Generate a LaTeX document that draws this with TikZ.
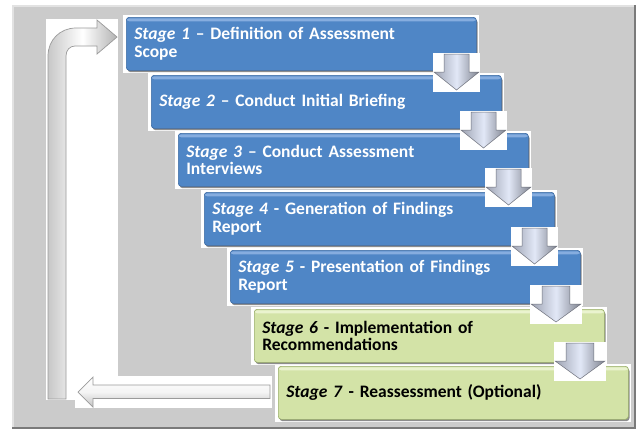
\documentclass[tikz,border=0pt]{standalone}
\usepackage{fontspec}
\setmainfont{Carlito}
\usetikzlibrary{shadows}
\definecolor{framegray}{HTML}{CBCBCB}
\definecolor{framedark}{HTML}{7A7A7A}
\definecolor{framelight}{HTML}{E2E2E2}
\definecolor{stageblue}{HTML}{4F86C6}
\definecolor{stagebluehi}{HTML}{86ADDF}
\definecolor{stageblueedge}{HTML}{3C6AA3}
\definecolor{stagegreen}{HTML}{D3E3A7}
\definecolor{stagegreenhi}{HTML}{EAF3CF}
\definecolor{stagegreenedge}{HTML}{98AD68}
\definecolor{arrowlight}{HTML}{E2E8F7}
\definecolor{arrowedge}{HTML}{9EA3B2}
\definecolor{looplight}{HTML}{F4F4F4}
\definecolor{loopedge}{HTML}{9A9A9A}
\tikzset{
  stagebox/.style={rounded corners=3pt, minimum width=350pt, minimum height=53pt,
    text width=334pt, inner xsep=8pt, inner ysep=0pt, align=left, anchor=north west,
    font=\fontsize{17.5}{17.5}\selectfont\bfseries,
    general shadow={fill=black!45, shadow xshift=1.2pt, shadow yshift=-1.8pt}},
  bluestage/.style={stagebox, fill=stageblue, draw=stageblueedge, line width=0.6pt, text=white,
    path picture={\fill[stagebluehi] ([yshift=-1pt]path picture bounding box.north west) rectangle ([yshift=-4pt]path picture bounding box.north east);}},
  greenstage/.style={stagebox, fill=stagegreen, draw=stagegreenedge, line width=0.6pt, text=black,
    path picture={\fill[stagegreenhi] ([yshift=-1pt]path picture bounding box.north west) rectangle ([yshift=-4pt]path picture bounding box.north east);}},
  downarrow/.style={left color=arrowedge, right color=arrowedge!80!black, middle color=arrowlight, draw=arrowedge!70!black, line width=0.5pt, line join=miter},
  looparrow/.style={draw=loopedge, line width=0.7pt, line join=miter},
  whitebg/.style={fill=white}
}
\begin{document}
\begin{tikzpicture}[x=1pt,y=-1pt]
\useasboundingbox (0,0) rectangle (640,432);
\fill[white] (0,0) rectangle (640,432);
% frame
\fill[framegray] (12,5) rectangle (636,429);
\draw[framelight, line width=1.5pt] (12.75,428) -- (12.75,5.75) -- (635,5.75);
\draw[framedark, line width=2.5pt] (634.75,5) -- (634.75,427.75) -- (12,427.75);
% white backgrounds of the loop arrow
\fill[whitebg] (46,19) rectangle (118,400);
\fill[whitebg] (75,376) rectangle (272,408);
% white backgrounds of the stages
\foreach \x/\y in {126/17,151/75,178/133,204/192,230/250,254/309,278/366}
  \fill[whitebg] (\x-3,\y-2) rectangle (\x+353,\y+56);
% stages
\node[bluestage] (s1) at (126,17) {\textit{Stage 1} – Definition of Assessment\\Scope};
\node[bluestage] (s2) at (151,75) {\textit{Stage 2} – Conduct Initial Briefing};
\node[bluestage] (s3) at (178,133) {\textit{Stage 3} – Conduct Assessment\\Interviews};
\node[bluestage] (s4) at (204,192) {\textit{Stage 4} - Generation of Findings\\Report};
\node[bluestage] (s5) at (230,250) {\textit{Stage 5} - Presentation of Findings\\Report};
\node[greenstage] (s6) at (254,309) {\textit{Stage 6} - Implementation of\\Recommendations};
\node[greenstage] (s7) at (278,366) {\textit{Stage 7} - Reassessment (Optional)};
% down arrows between stages
\foreach \bx/\by/\w in {433/53/47,460/111/47,485/168/47,511/227/47,530/285/52,554/342/52}{
  \fill[whitebg] (\bx,\by) rectangle (\bx+\w,\by+39);
  \path[downarrow] (\bx+0.234*\w,\by+1) -- (\bx+0.766*\w,\by+1) -- (\bx+0.766*\w,\by+19)
    -- (\bx+0.979*\w,\by+19) -- (\bx+0.5*\w,\by+37) -- (\bx+0.021*\w,\by+19)
    -- (\bx+0.234*\w,\by+19) -- cycle;
}
% loop arrow back from stage 7 to stage 1
\path[looparrow, top color=white, bottom color=loopedge!60, middle color=looplight]
  (270,385) -- (93,385) -- (93,377) -- (78,392) -- (93,407) -- (93,398.5) -- (270,398.5) -- cycle;
\path[looparrow, left color=loopedge!55, right color=loopedge!75, middle color=white]
  (48,399) -- (48,56) .. controls (48,40) and (60,28) .. (76,28) -- (97,28) -- (97,20)
  -- (117,37) -- (97,54) -- (97,46) -- (75,46) .. controls (70,46) and (66,50) .. (66,56)
  -- (66,399) -- cycle;
\end{tikzpicture}
\end{document}
